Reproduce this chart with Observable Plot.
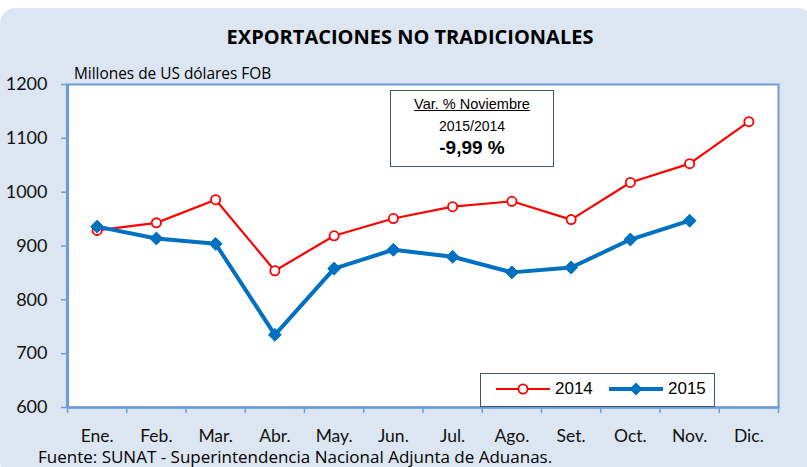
<!DOCTYPE html>
<html><head><meta charset="utf-8">
<script src="https://cdn.jsdelivr.net/npm/d3@7"></script>
<script src="https://cdn.jsdelivr.net/npm/@observablehq/plot@0.6"></script>
<style>
html,body{margin:0;padding:0;background:#fff;}
#wrap{position:relative;width:807px;height:467px;overflow:hidden;font-family:"Open Sans",Lato,sans-serif;}
#bg{position:absolute;left:0;top:8px;width:814px;height:470px;background:#dce6f2;border-radius:16px;}
#chart{position:absolute;left:0;top:0;}
.t{position:absolute;white-space:nowrap;color:#000;}
#title{left:0;width:820px;text-align:center;top:24px;font-weight:700;font-size:20px;line-height:26px;}
#sub{left:74px;top:63px;font-size:15.4px;line-height:22px;}
#foot{left:38px;top:446px;font-size:17px;line-height:22px;}
#ann{position:absolute;left:390px;top:90px;width:164px;height:77px;background:#fff;border:1.5px solid #44546a;box-sizing:border-box;font-family:"Liberation Sans",Arial,sans-serif;text-align:center;}
#ann .a1{margin-top:5px;font-size:14.5px;text-decoration:underline;}
#ann .a2{margin-top:6px;font-size:14px;}
#ann .a3{margin-top:3px;font-size:19px;font-weight:700;}
#leg{position:absolute;left:480px;top:373px;width:235px;height:34px;background:#fff;border:1px solid #44546a;box-sizing:border-box;font-family:"Liberation Sans",Arial,sans-serif;font-size:17px;}
#leg .it{position:absolute;top:5px;display:flex;align-items:center;}
</style></head>
<body>
<div id="wrap">
  <div id="bg"></div>
  <div id="chart"></div>
  <div class="t" id="title">EXPORTACIONES NO TRADICIONALES</div>
  <div class="t" id="sub">Millones de US dólares FOB</div>
  <div class="t" id="foot">Fuente: SUNAT - Superintendencia Nacional Adjunta de Aduanas.</div>
  <div id="ann"><div class="a1">Var. % Noviembre</div><div class="a2">2015/2014</div><div class="a3">-9,99 %</div></div>
  <div id="leg"></div>
</div>
<script>
const months = ["Ene.","Feb.","Mar.","Abr.","May.","Jun.","Jul.","Ago.","Set.","Oct.","Nov.","Dic."];
const values2014 = [929,943,986,854,919,951,973,983,949,1018,1053,1131];
const values2015 = [936,914,904,735,858,893,880,851,860,912,947];
const yTicks = [600,700,800,900,1000,1100,1200];
const seriesNames = ["2014","2015"];

const d14 = values2014.map((v,i)=>({i, month:months[i], value:v}));
const d15 = values2015.map((v,i)=>({i, month:months[i], value:v}));
const blue = "#6c9bd6";
const red = "#ff0000";
const dark = "#0070c0";

const chart = Plot.plot({
  width: 807, height: 467,
  marginLeft: 67, marginRight: 29, marginTop: 84, marginBottom: 60,
  style: {background: "transparent", fontFamily: "Lato, 'Open Sans', sans-serif", color: "#000", fontWeight: "400"},
  x: {domain: [0, months.length], axis: null},
  y: {domain: [600, 1200], axis: null},
  marks: [
    Plot.frame({fill: "white", stroke: blue, strokeWidth: 2}),
    Plot.axisY({ticks: yTicks, label: null, tickSize: 6, tickPadding: 14, stroke: blue, strokeWidth: 1.5, fill: "#111", fontSize: 18, tickFormat: d => String(d)}),
    Plot.ruleX([0], {stroke: blue, strokeWidth: 3}),
    Plot.ruleY([600], {stroke: blue, strokeWidth: 2.5}),
    Plot.axisX({ticks: d3.range(0, months.length + 1), label: null, tickSize: 6, stroke: blue, strokeWidth: 1.5, tickFormat: () => ""}),
    Plot.axisX({ticks: months.map((m,i)=>i+0.5), label: null, tickSize: 0, tickPadding: 22, fill: "#111", fontSize: 17.5, tickFormat: t => months[Math.round(t-0.5)]}),
    Plot.line(d14, {x: d => d.i + 0.5, y: "value", stroke: red, strokeWidth: 2.2}),
    Plot.dot(d14, {x: d => d.i + 0.5, y: "value", r: 4.6, fill: "white", stroke: red, strokeWidth: 1.8}),
    Plot.line(d15, {x: d => d.i + 0.5, y: "value", stroke: dark, strokeWidth: 4}),
    Plot.dot(d15, {x: d => d.i + 0.5, y: "value", symbol: "diamond2", r: 5.8, fill: dark, stroke: dark, strokeWidth: 1})
  ]
});
document.getElementById("chart").appendChild(chart);

// legend
const leg = document.getElementById("leg");
const legDefs = [
  {name: seriesNames[0], left: 14, sym: `<svg width="56" height="20"><line x1="1" y1="10" x2="55" y2="10" stroke="${red}" stroke-width="2.2"/><circle cx="28" cy="10" r="4.6" fill="white" stroke="${red}" stroke-width="1.8"/></svg>`},
  {name: seriesNames[1], left: 127, sym: `<svg width="56" height="20"><line x1="1" y1="10" x2="55" y2="10" stroke="${dark}" stroke-width="4"/><path d="M28,3.5L34.5,10L28,16.5L21.5,10Z" fill="${dark}"/></svg>`}
];
legDefs.forEach(d => {
  const el = document.createElement("div");
  el.className = "it";
  el.style.left = d.left + "px";
  el.innerHTML = d.sym + `<span style="margin-left:4px">${d.name}</span>`;
  leg.appendChild(el);
});
</script>
</body></html>
